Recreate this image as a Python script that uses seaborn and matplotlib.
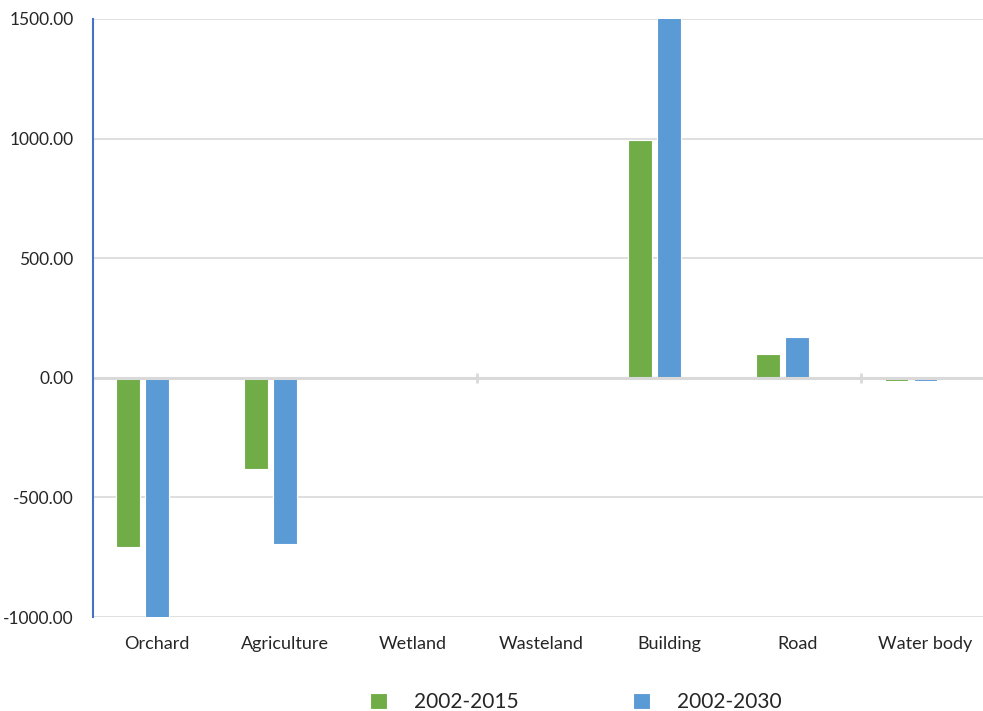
import pandas as pd
import matplotlib.pyplot as plt
import seaborn as sns

# Land use change
categories = ['Orchard', 'Agriculture', 'Wetland', 'Wasteland', 'Building', 'Road', 'Water body']
change_2015 = [-706, -380, 0, 0, 995, 100, -14]
change_2030 = [-1040, -694, 0, 0, 1560, 171, -14]
periods = ['2002-2015', '2002-2030']
colors = ['#70AD47', '#5B9BD5']

df = pd.DataFrame({
    'category': categories * 2,
    'value': change_2015 + change_2030,
    'period': [periods[0]] * len(categories) + [periods[1]] * len(categories),
})

sns.set_style('white')
plt.rcParams['font.family'] = ['Lato', 'DejaVu Sans']

fig = plt.figure(figsize=(9.83, 7.11), dpi=100)
ax = fig.add_axes([0.0946, 0.1322, 0.912, 0.8411])

# the Excel chart leaves an empty third slot in each group, so bars sit left of the label
sns.barplot(data=df, x='category', y='value', hue='period',
            hue_order=periods + ['_empty'], palette=colors + ['white'], saturation=1,
            width=0.68, gap=0.18, edgecolor='white', linewidth=0.8, ax=ax, legend=True)

ax.set_ylim(-1000, 1500)
ax.set_xlim(-0.5, 6.5)
ax.set_yticks([-1000, -500, 0, 500, 1000, 1500])
ax.set_yticklabels([f'{v:.2f}' for v in [-1000, -500, 0, 500, 1000, 1500]])
ax.yaxis.grid(True, color='#D9D9D9', linewidth=1.2)
ax.set_axisbelow(True)
ax.axhline(0, color='#D9D9D9', linewidth=2.2, zorder=1)
ax.vlines([2.5, 5.5], -22, 22, color='#D9D9D9', linewidth=2, zorder=1)

for s in ['top', 'right', 'bottom']:
    ax.spines[s].set_visible(False)
ax.spines['left'].set_color('#4472C4')
ax.spines['left'].set_linewidth(1.5)

ax.tick_params(axis='y', direction='in', length=6, width=1.5, color='#4472C4',
               labelsize=12.5, labelcolor='#262626', pad=14)
ax.tick_params(axis='x', length=0, labelsize=13, labelcolor='#262626', pad=14)
ax.set_xlabel('')
ax.set_ylabel('')

handles, labels = ax.get_legend_handles_labels()
ax.get_legend().remove()
fig.legend(handles[:2], labels[:2], loc='center', bbox_to_anchor=(0.586, 0.012), ncol=2,
           frameon=False, fontsize=15, handlelength=0.8, handleheight=0.8,
           columnspacing=5.5, handletextpad=1.3, labelcolor='#262626')

fig.savefig('out.png', dpi=100)
